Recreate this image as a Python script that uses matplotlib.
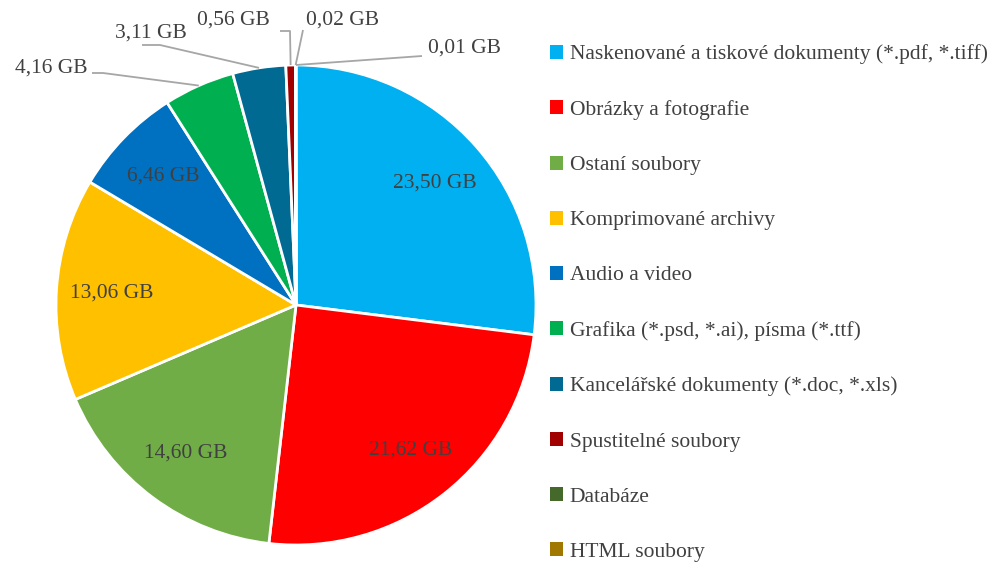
import numpy as np
import matplotlib
matplotlib.use('Agg')
import matplotlib.pyplot as plt

# Data
categories = [
    'Naskenované a tiskové dokumenty (*.pdf, *.tiff)',
    'Obrázky a fotografie',
    'Ostaní soubory',
    'Komprimované archivy',
    'Audio a video',
    'Grafika (*.psd, *.ai), písma (*.ttf)',
    'Kancelářské dokumenty (*.doc, *.xls)',
    'Spustitelné soubory',
    'Databáze',
    'HTML soubory',
]
sizes_gb = [23.50, 21.62, 14.60, 13.06, 6.46, 4.16, 3.11, 0.56, 0.02, 0.01]
slice_colors = ['#00B0F0', '#FF0000', '#70AD47', '#FFC000', '#0070C0',
                '#00B050', '#006A93', '#A00000', '#44692B', '#A07800']

plt.rcParams['font.family'] = ['Liberation Serif', 'DejaVu Serif']
text_color = '#404040'
line_color = '#A6A6A6'
fs = 15.5

fig = plt.figure(figsize=(9.92, 5.63), dpi=100)
# pie centre at (296, 305) px, radius 240 px
ax = fig.add_axes([56 / 992, 18 / 563, 480 / 992, 480 / 563])

wedges, _ = ax.pie(sizes_gb, colors=slice_colors, startangle=90, counterclock=False,
                   radius=1.0, wedgeprops=dict(edgecolor='white', linewidth=2.0))
ax.set_xlim(-1, 1)
ax.set_ylim(-1, 1)
ax.set_aspect('equal')
ax.axis('off')


def fmt(v):
    return f'{v:.2f}'.replace('.', ',') + ' GB'


def px(x, y):
    return (x - 296) / 240, (305 - y) / 240


# inside labels
for w, v in zip(wedges[:5], sizes_gb[:5]):
    a = np.deg2rad((w.theta1 + w.theta2) / 2)
    r = 0.77
    ax.text(r * np.cos(a), r * np.sin(a), fmt(v), ha='center', va='center',
            fontsize=fs, color=text_color)

# outside labels with leader lines: (text centre, line start, elbow or None)
outside = [
    ((51, 68), (92, 73), (103, 73)),
    ((151, 33), (142, 45), (160, 45)),
    ((233, 20), (280, 31), (290, 31)),
    ((343, 20), (303, 30), None),
    ((464, 48), (422, 56), None),
]
for (w, v), (tpos, start, elbow) in zip(zip(wedges[5:], sizes_gb[5:]), outside):
    a = np.deg2rad((w.theta1 + w.theta2) / 2)
    ex, ey = np.cos(a), np.sin(a)
    pts = [px(*start)]
    if elbow is not None:
        pts.append(px(*elbow))
    pts.append((ex, ey))
    xs, ys = zip(*pts)
    ax.plot(xs, ys, color=line_color, linewidth=1.3, clip_on=False, solid_capstyle='butt')
    tx, ty = px(*tpos)
    ax.text(tx, ty, fmt(v), ha='center', va='center', fontsize=fs, color=text_color,
            clip_on=False)

leg = fig.legend(wedges, categories, loc='upper left', bbox_to_anchor=(550 / 992, 1 - 44.5 / 563),
                 frameon=False, fontsize=fs, handlelength=0.62, handleheight=0.62,
                 handletextpad=0.3, labelspacing=1.655, borderaxespad=0, borderpad=0)
for t in leg.get_texts():
    t.set_color(text_color)
for h in leg.legend_handles:
    h.set_linewidth(0)

fig.savefig('out.png', dpi=100)
